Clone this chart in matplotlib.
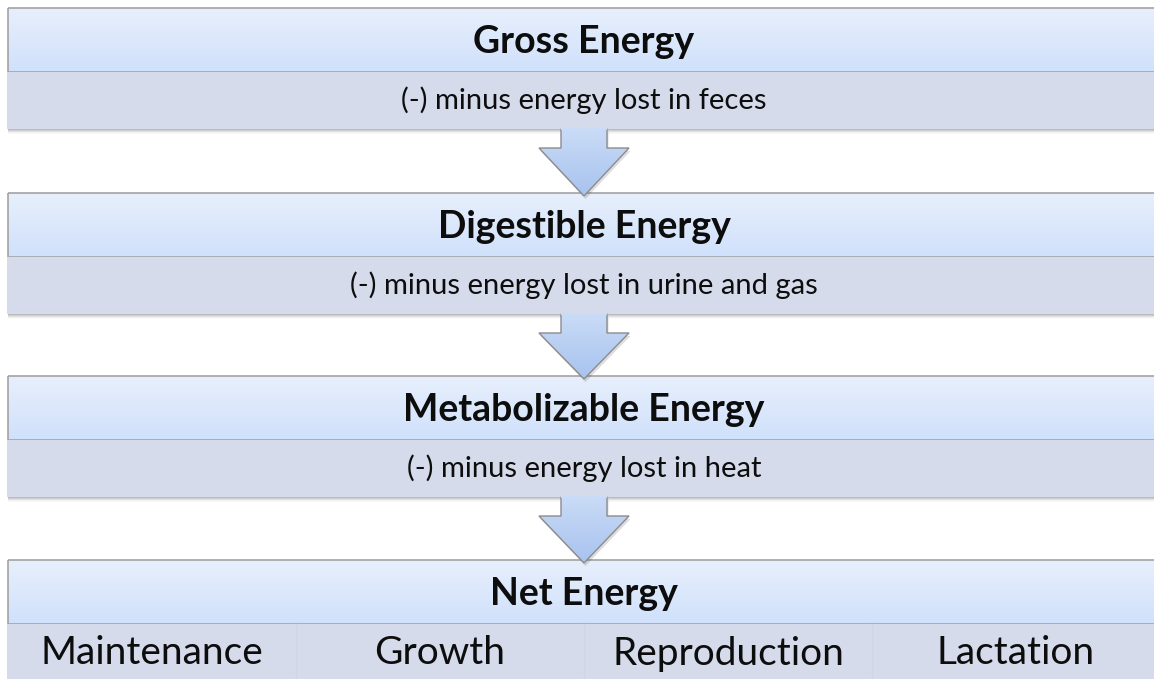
import numpy as np
import matplotlib
matplotlib.use("Agg")
import matplotlib.pyplot as plt
from matplotlib.patches import Rectangle, Polygon
from matplotlib.colors import LinearSegmentedColormap

plt.rcParams["font.family"] = ["Lato", "DejaVu Sans"]

# ---------------------------------------------------------------- 내용
STAGES = ["Gross Energy", "Digestible Energy", "Metabolizable Energy", "Net Energy"]
LOSSES = ["(-) minus energy lost in feces",
          "(-) minus energy lost in urine and gas",
          "(-) minus energy lost in heat"]
USES = ["Maintenance", "Growth", "Reproduction", "Lactation"]

# ---------------------------------------------------------------- 배치 (픽셀)
W, H = 1154, 679
X0, X1 = 8, 1160
TOPS = [8, 193, 376, 560]
HEAD_H = 64
SUB_H = 57
AR_HALF_SHAFT, AR_HALF_HEAD = 23, 45
CX = (X0 + X1) / 2

fig = plt.figure(figsize=(W / 100, H / 100), dpi=100)
ax = fig.add_axes([0, 0, 1, 1])
ax.set_xlim(0, W)
ax.set_ylim(H, 0)
ax.axis("off")

grad = np.linspace(0, 1, 64)[:, None]
cm_head = LinearSegmentedColormap.from_list("head", ["#e7effc", "#d0e1fb"])
cm_arrow = LinearSegmentedColormap.from_list("arr", ["#c9dbf6", "#a8c3ef"])


def shadow(x0, y0, w, h):
    for k, a in zip(range(1, 6), [0.10, 0.08, 0.06, 0.04, 0.02]):
        ax.add_patch(Rectangle((x0 + 1, y0 + k), w, h, fc="#000000", ec="none",
                               alpha=a, zorder=1))


def stage_box(i, top):
    shadow(X0 - 1, top, X1 - X0 + 1, HEAD_H + SUB_H)
    im = ax.imshow(grad, cmap=cm_head, aspect="auto",
                   extent=(X0, X1, top + HEAD_H, top), zorder=2)
    r = Rectangle((X0, top), X1 - X0, HEAD_H, fc="none", ec="#a3a3a3", lw=1.2, zorder=3)
    ax.add_patch(r)
    im.set_clip_path(r)
    ax.add_patch(Rectangle((X0 - 1, top + HEAD_H), X1 - X0 + 1, SUB_H,
                           fc="#d5dbeb", ec="none", zorder=3))
    ax.text(CX, top + HEAD_H / 2 + 2, STAGES[i], ha="center", va="center",
            fontsize=27, fontweight="bold", color="#0d0d0d", zorder=5)


def arrow(top, tip):
    shoulder = top + 19
    pts = [(CX - AR_HALF_SHAFT, top), (CX + AR_HALF_SHAFT, top),
           (CX + AR_HALF_SHAFT, shoulder), (CX + AR_HALF_HEAD, shoulder),
           (CX, tip), (CX - AR_HALF_HEAD, shoulder), (CX - AR_HALF_SHAFT, shoulder)]
    ax.add_patch(Polygon([(x + 1.5, y + 3) for x, y in pts], closed=True,
                         fc="#000000", ec="none", alpha=0.13, zorder=6))
    im = ax.imshow(grad, cmap=cm_arrow, aspect="auto",
                   extent=(CX - AR_HALF_HEAD, CX + AR_HALF_HEAD, tip, top), zorder=7)
    p = Polygon(pts, closed=True, fc="none", ec="#8c8c8c", lw=1.0, zorder=8)
    ax.add_patch(p)
    im.set_clip_path(p)
    # 윗변은 상자 밑으로 들어가므로 테두리 가림
    ax.plot([CX - AR_HALF_SHAFT + 1, CX + AR_HALF_SHAFT - 1], [top, top],
            color="#c9dbf6", lw=1.5, zorder=8.5)


for i, top in enumerate(TOPS):
    stage_box(i, top)
    sub_c = top + HEAD_H + SUB_H / 2
    if i < len(LOSSES):
        ax.text(CX, sub_c, LOSSES[i], ha="center", va="center",
                fontsize=21, color="#0d0d0d", zorder=5)
        arrow(top + HEAD_H + SUB_H, TOPS[i + 1] + 3)
    else:
        colw = (X1 - X0) / len(USES)
        for j, u in enumerate(USES):
            if j > 0:
                ax.plot([X0 + j * colw] * 2, [top + HEAD_H, H], color="#d0d6e6",
                        lw=1.0, zorder=4)
            ax.text(X0 + (j + 0.5) * colw, sub_c + 1, u, ha="center", va="center",
                    fontsize=28, color="#0d0d0d", zorder=5)

fig.savefig("out.png", dpi=100)
